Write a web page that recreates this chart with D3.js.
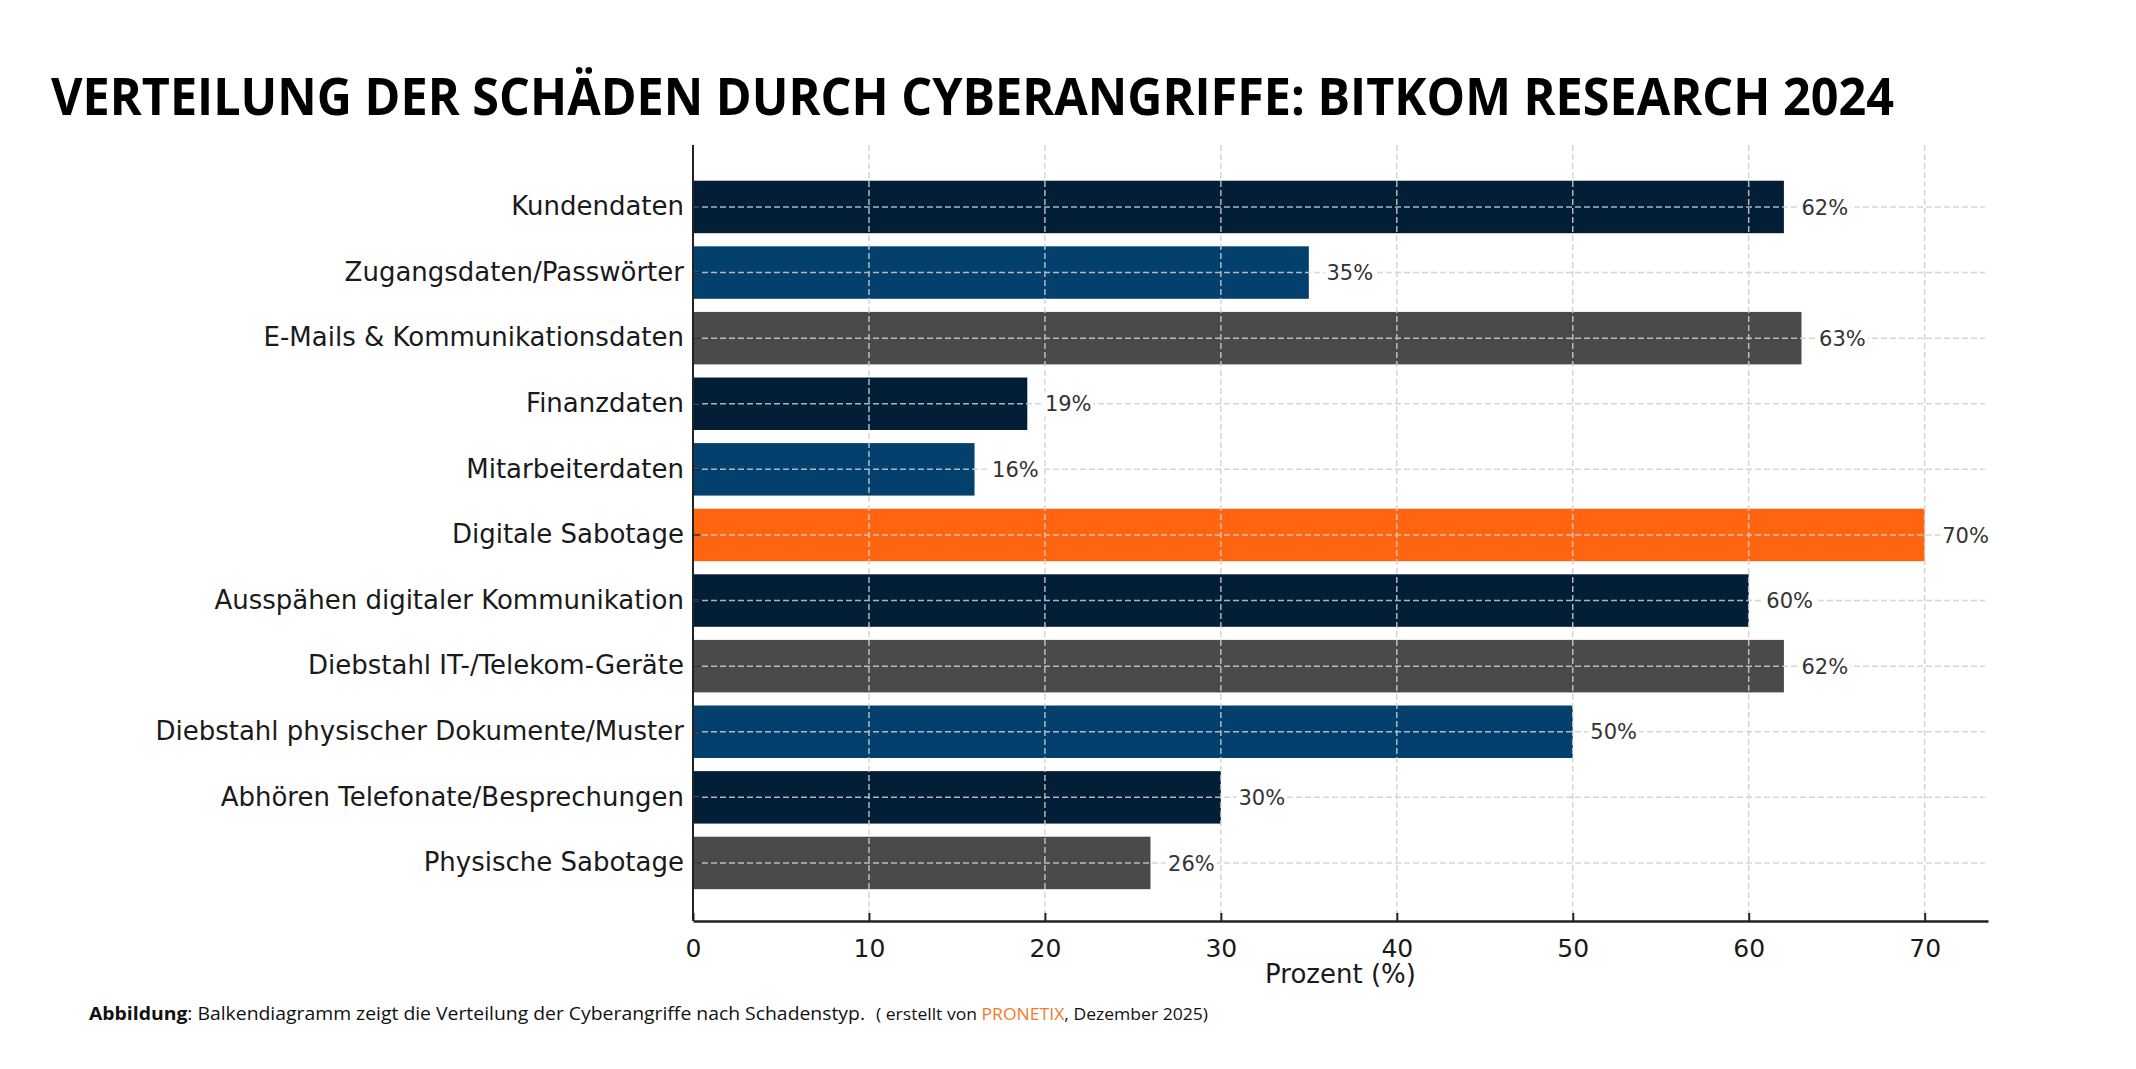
<!DOCTYPE html>
<html>
<head>
<meta charset="utf-8">
<script src="https://cdn.jsdelivr.net/npm/d3@7"></script>
<style>
  body { margin: 0; background: #fff; }
  svg { display: block; }
</style>
</head>
<body>
<svg id="chart" width="2136" height="1069"></svg>
<script>
// data
var categories = [
    "Kundendaten",
    "Zugangsdaten/Passwörter",
    "E-Mails & Kommunikationsdaten",
    "Finanzdaten",
    "Mitarbeiterdaten",
    "Digitale Sabotage",
    "Ausspähen digitaler Kommunikation",
    "Diebstahl IT-/Telekom-Geräte",
    "Diebstahl physischer Dokumente/Muster",
    "Abhören Telefonate/Besprechungen",
    "Physische Sabotage"
];
var values = [62, 35, 63, 19, 16, 70, 60, 62, 50, 30, 26];
var barColors = ["#031f37", "#04406e", "#4a4a4a", "#031f37", "#04406e", "#ff6510",
                 "#031f37", "#4a4a4a", "#04406e", "#031f37", "#4a4a4a"];
var xTicks = [0, 10, 20, 30, 40, 50, 60, 70];

var svg = d3.select("#chart");

var axisTop = 145, axisBottom = 921, axisLeft = 693, axisRight = 1988;

var x = d3.scaleLinear().domain([0, 73.6]).range([axisLeft, axisRight]);
var y = d3.scaleBand().domain(categories).range([167.6, 902.3])
    .paddingInner(0.2).paddingOuter(0.2);

// Title
svg.append("text")
    .attr("x", 51)
    .attr("y", 115)
    .attr("font-family", "'Open Sans', sans-serif")
    .attr("font-weight", "bold")
    .attr("font-size", 52)
    .attr("textLength", 1843)
    .attr("lengthAdjust", "spacingAndGlyphs")
    .attr("fill", "#000")
    .text("VERTEILUNG DER SCHÄDEN DURCH CYBERANGRIFFE: BITKOM RESEARCH 2024");

// Bars
svg.append("g").selectAll("rect")
    .data(values)
    .enter()
    .append("rect")
    .attr("x", x(0))
    .attr("y", function (d, i) { return y(categories[i]); })
    .attr("width", function (d) { return x(d) - x(0); })
    .attr("height", y.bandwidth())
    .attr("fill", function (d, i) { return barColors[i]; });

// Grid (drawn on top of bars, like the original)
var grid = svg.append("g")
    .attr("stroke", "#cfcfcf")
    .attr("stroke-width", 1.5)
    .attr("stroke-dasharray", "6,3")
    .attr("opacity", 0.85);
grid.selectAll("line.v")
    .data(xTicks.slice(1))
    .enter()
    .append("line")
    .attr("class", "v")
    .attr("x1", function (d) { return x(d); })
    .attr("x2", function (d) { return x(d); })
    .attr("y1", axisTop)
    .attr("y2", axisBottom);
grid.selectAll("line.h")
    .data(categories)
    .enter()
    .append("line")
    .attr("class", "h")
    .attr("x1", axisLeft)
    .attr("x2", 1985)
    .attr("y1", function (d) { return y(d) + y.bandwidth() / 2; })
    .attr("y2", function (d) { return y(d) + y.bandwidth() / 2; });

// Value labels with white box behind
var labels = svg.append("g").selectAll("g")
    .data(values)
    .enter()
    .append("g");
labels.append("text")
    .attr("x", function (d) { return x(d + 1); })
    .attr("y", function (d, i) { return y(categories[i]) + y.bandwidth() / 2; })
    .attr("dy", "0.36em")
    .attr("font-family", "'DejaVu Sans', sans-serif")
    .attr("font-size", 21)
    .attr("fill", "#333")
    .text(function (d) { return d + "%"; });
labels.each(function () {
    var g = d3.select(this);
    var b = g.select("text").node().getBBox();
    g.insert("rect", "text")
        .attr("x", b.x - 2)
        .attr("y", b.y)
        .attr("width", b.width + 4)
        .attr("height", b.height)
        .attr("fill", "#fff");
});

// X axis
var xAxis = svg.append("g")
    .attr("transform", "translate(0," + axisBottom + ")")
    .call(d3.axisBottom(x).tickValues(xTicks).tickSizeInner(-8).tickSizeOuter(0).tickPadding(18));
xAxis.select(".domain").attr("stroke", "#222").attr("stroke-width", 2.5);
xAxis.selectAll(".tick line").attr("stroke", "#222").attr("stroke-width", 2);
xAxis.selectAll(".tick text")
    .attr("font-family", "'DejaVu Sans', sans-serif")
    .attr("font-size", 25)
    .attr("fill", "#1a1a1a");

// Y axis
var yAxis = svg.append("g")
    .attr("transform", "translate(" + axisLeft + ",0)")
    .call(d3.axisLeft(y).tickSizeInner(-7).tickSizeOuter(0).tickPadding(9));
yAxis.select(".domain").remove();
yAxis.append("line")
    .attr("x1", 0).attr("x2", 0)
    .attr("y1", axisTop).attr("y2", axisBottom)
    .attr("stroke", "#222")
    .attr("stroke-width", 2);
yAxis.selectAll(".tick line").attr("stroke", "#222").attr("stroke-width", 1.5);
yAxis.selectAll(".tick text")
    .attr("font-family", "'DejaVu Sans', sans-serif")
    .attr("font-size", 26)
    .attr("fill", "#1a1a1a");

// X label
svg.append("text")
    .attr("x", (axisLeft + axisRight) / 2)
    .attr("y", 983)
    .attr("text-anchor", "middle")
    .attr("font-family", "'DejaVu Sans', sans-serif")
    .attr("font-size", 26)
    .attr("fill", "#1a1a1a")
    .text("Prozent (%)");

// Caption
var cap = svg.append("text")
    .attr("x", 89)
    .attr("y", 1020)
    .attr("font-family", "'Open Sans', sans-serif")
    .attr("font-size", 18)
    .attr("textLength", 776)
    .attr("lengthAdjust", "spacingAndGlyphs")
    .attr("fill", "#111");
cap.append("tspan").attr("font-weight", "bold").text("Abbildung");
cap.append("tspan").text(": Balkendiagramm zeigt die Verteilung der Cyberangriffe nach Schadenstyp.");

var cap2 = svg.append("text")
    .attr("x", 876)
    .attr("y", 1020)
    .attr("font-family", "'Open Sans', sans-serif")
    .attr("font-size", 15.5)
    .attr("textLength", 332)
    .attr("lengthAdjust", "spacingAndGlyphs")
    .attr("fill", "#111");
cap2.append("tspan").text("( erstellt von ");
cap2.append("tspan").attr("fill", "#f47a2a").text("PRONETIX");
cap2.append("tspan").text(", Dezember 2025)");
</script>
</body>
</html>
